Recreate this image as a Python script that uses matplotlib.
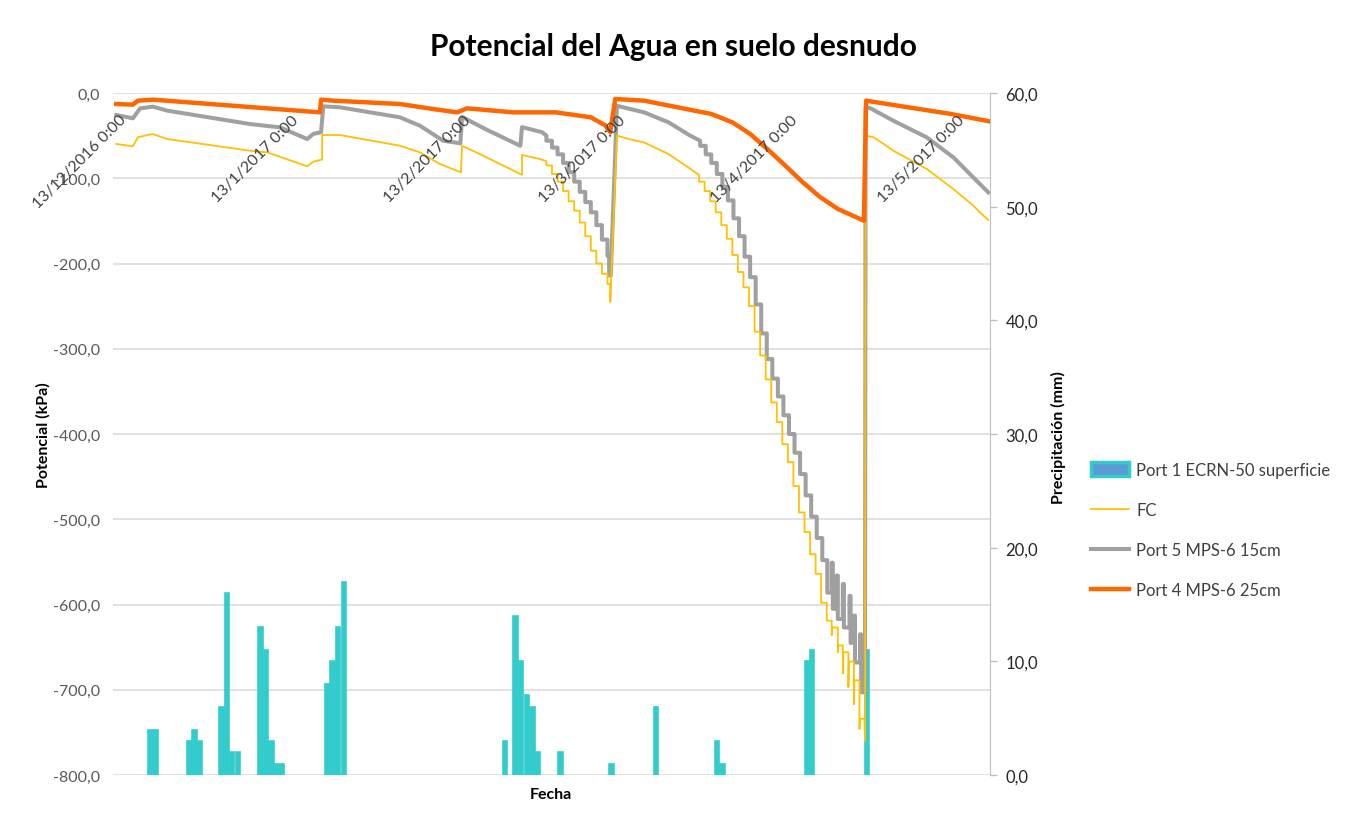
import matplotlib.pyplot as plt
import matplotlib.transforms as mtransforms
from matplotlib.ticker import MultipleLocator, FuncFormatter
from matplotlib.patches import Patch
from matplotlib.lines import Line2D
import pandas as pd

plt.rcParams['font.family'] = ['Lato', 'DejaVu Sans']

# origen de tiempo: dias contados desde 13/12/2016 0:00
inicio = pd.Timestamp('2016-12-13 00:00')
x_min, x_max = '2016-12-11 22:00', '2017-05-18 22:00'
etiquetas_fecha = ['2016-12-13', '2017-01-13', '2017-02-13', '2017-03-13', '2017-04-13', '2017-05-13']

# Port 1 ECRN-50 superficie (precipitacion, mm)
lluvia_dias = [5.7, 6.6, 12.7, 13.6, 14.5, 18.5, 19.5, 20.4, 21.4, 25.5, 26.5, 27.5, 28.4, 29.4,
               37.6, 38.5, 39.5, 40.5, 69.5, 71.4, 72.4, 73.5, 74.5, 75.4, 79.5, 88.7, 96.7,
               107.7, 108.7, 123.9, 124.8, 134.8]
lluvia_mm = [4, 4, 3, 4, 3, 6, 16, 2, 2, 13, 11, 3, 1, 1,
             8, 10, 13, 17, 3, 14, 10, 7, 6, 2, 2, 1, 6,
             3, 1, 10, 11, 11]

# Port 4 MPS-6 25cm
p4_dias = [-0.5, 2.5, 3.4, 6.1, 36.2, 36.4, 38.6, 50.6, 56.6, 60.9, 62.7, 71.0, 78.7, 85.0,
           87.6, 88.5, 89.4, 94.6, 106.7, 110.5, 113.7, 116.8, 120.0, 123.2, 126.3, 129.5,
           134.2, 134.6, 142.2, 149.9, 156.6]
p4_kpa = [-12.9, -13.7, -9, -7.8, -22.7, -7.8, -9, -12.9, -18.8, -22.7, -18, -22.7, -22.7, -28.5,
          -38, -46, -7, -9, -24.6, -34.4, -48, -65.7, -85, -104.8, -122, -136,
          -149.8, -9, -16.8, -24.6, -33]

# Port 5 MPS-6 15cm
p5_dias = [-0.5, 2.5, 3.8, 6.1, 8.7, 23.6, 29.0, 33.9, 35.0, 36.4, 36.8, 39.8, 50.6, 54.2, 58.4,
           61.5, 61.8, 65.9, 72.3, 72.6, 76.2,
           77, 77, 78, 78, 79, 79, 80, 80, 81, 81, 82, 82, 83, 83, 84, 84, 85, 85, 86, 86, 87, 87,
           88, 88, 88.3, 88.3, 88.6, 89.7, 94.6, 99.0, 102.9,
           104.7, 104.7, 105.7, 105.7, 106.7, 106.7, 107.7, 107.7, 108.7, 108.7, 109.7, 109.7,
           110.7, 110.7, 111.7, 111.7, 112.7, 112.7, 113.7, 113.7, 114.7, 114.7, 115.7, 115.7,
           116.7, 116.7, 117.7, 117.7, 118.7, 118.7, 119.7, 119.7, 120.7, 120.7, 121.7, 121.7,
           122.7, 122.7, 123.7, 123.7, 124.7, 124.7, 125.7, 125.7, 126.7, 126.7,
           127.6, 127.6, 128.4, 128.4, 128.6, 128.6, 129.3, 129.3, 129.5, 129.5, 130.4, 130.4,
           130.6, 130.6, 131.6, 131.6, 131.8, 131.8, 132.4, 132.4, 132.6, 132.6, 133.5, 133.5,
           133.7, 133.7, 134.4, 134.5, 135.3, 139.5, 145.5, 150.3, 153.9, 156.6]
p5_kpa = [-25.8, -29.7, -18, -16, -20.7, -36.4, -40.3, -54, -48, -46, -15.6, -16.8, -28.5, -38.3, -56,
          -59, -28, -42, -62, -40, -46,
          -50, -56, -56, -64, -64, -72, -72, -82, -82, -93, -93, -104, -104, -116, -116, -128, -128, -140,
          -140, -155, -155, -172, -172, -191, -191, -214, -214, -15, -22.7, -34.4, -50,
          -56, -62, -62, -72, -72, -82, -82, -95, -95, -110, -110, -126,
          -126, -147, -147, -168, -168, -192, -192, -216, -216, -248, -248, -282,
          -282, -312, -312, -335, -335, -356, -356, -378, -378, -400, -400, -422,
          -422, -447, -447, -472, -472, -497, -497, -522, -522, -548,
          -548, -586, -586, -551, -551, -605, -605, -566, -566, -617, -617, -576,
          -576, -627, -627, -590, -590, -645, -645, -613, -613, -668, -668, -635,
          -635, -703, -703, -17, -17.6, -32.5, -52, -75.4, -99, -116.5]

# FC
fc_dias = [-0.5, 2.5, 3.4, 6.0, 8.7, 23.6, 26.7, 33.9, 35.0, 36.6, 36.6, 39.8, 50.6, 54.2, 57.8,
           61.6, 61.8, 65.6, 72.6, 72.6, 75.8,
           77, 77, 78, 78, 79, 79, 80, 80, 81, 81, 82, 82, 83, 83, 84, 84, 85, 85, 86, 86, 87, 87,
           88, 88, 88.5, 88.5, 89.7, 91.9, 94.6, 99.0, 102.9,
           104.5, 104.5, 105.5, 105.5, 106.5, 106.5, 107.5, 107.5, 108.5, 108.5, 109.5, 109.5,
           110.5, 110.5, 111.5, 111.5, 112.5, 112.5, 113.5, 113.5, 114.5, 114.5, 115.5, 115.5,
           116.5, 116.5, 117.5, 117.5, 118.5, 118.5, 119.5, 119.5, 120.5, 120.5, 121.5, 121.5,
           122.5, 122.5, 123.5, 123.5, 124.5, 124.5, 125.5, 125.5, 126.5, 126.5, 127.5, 127.5,
           128.4, 128.4, 128.5, 129.5, 129.5, 129.6, 130.4, 130.4, 130.5, 131.4, 131.4, 131.5,
           132.4, 132.4, 132.5, 133.4, 133.4, 133.5, 134.3, 134.4, 134.5,
           136.0, 139.5, 145.5, 150.3, 153.9, 155.1, 156.6]
fc_kpa = [-59.8, -62.5, -52, -48, -54, -67.7, -69.6, -86, -80.6, -78, -49.3, -49.3, -61.8, -69.6, -83.3,
          -93, -61.8, -73.5, -96, -72.7, -77.4,
          -80, -85, -85, -95, -95, -104, -104, -115, -115, -127, -127, -138, -138, -152, -152, -168,
          -168, -185, -185, -200, -200, -212, -212, -224, -224, -245, -50, -54, -58, -71.6, -89,
          -96, -104, -104, -115, -115, -127, -127, -140, -140, -155, -155, -171,
          -171, -190, -190, -210, -210, -228, -228, -250, -250, -280, -280, -308,
          -308, -336, -336, -363, -363, -386, -386, -412, -412, -433, -433, -461,
          -461, -492, -492, -515, -515, -541, -541, -564, -564, -598, -598, -619,
          -619, -636, -627, -627, -656, -648, -648, -681, -656, -656, -697, -667,
          -667, -717, -689, -689, -746, -734, -734, -760, -50,
          -52, -67.7, -89, -112.6, -132, -140, -149]


def fechas(dias):
    return inicio + pd.to_timedelta(dias, unit='D')


def coma(v, pos):
    s = f"{v:.1f}".replace('.', ',')
    return '0,0' if s == '-0,0' else s


fig = plt.figure(figsize=(13.49, 8.28), dpi=100)
ax = fig.add_axes([113 / 1349, 1 - 776 / 828, (990 - 113) / 1349, (776 - 94) / 828])
ax_p = ax.twinx()
ax.set_zorder(ax_p.get_zorder() + 1)
ax.patch.set_visible(False)

# lineas de division (del eje de potencial) por debajo de las barras
grid_tr = mtransforms.blended_transform_factory(ax_p.transAxes, ax.transData)
for v in range(0, -900, -100):
    ax_p.plot([0, 1], [v, v], transform=grid_tr, color='#D9D9D9', lw=1.1, zorder=0)

ax_p.bar(fechas(lluvia_dias), lluvia_mm, width=0.8, color='#33CCCC',
         edgecolor='#33CCCC', linewidth=1.2, zorder=2)

ax.plot(fechas(p5_dias), p5_kpa, color='#A0A0A0', lw=2.9, zorder=2)
ax.plot(fechas(fc_dias), fc_kpa, color='#FFC000', lw=1.3, zorder=3)
ax.plot(fechas(p4_dias), p4_kpa, color='#FF6600', lw=3.2, zorder=4)

ax.set_xlim(pd.Timestamp(x_min), pd.Timestamp(x_max))
ax.set_ylim(-800, 0)
ax_p.set_ylim(0, 60)

ax.yaxis.set_major_locator(MultipleLocator(100))
ax.yaxis.set_major_formatter(FuncFormatter(coma))
ax.tick_params(axis='y', length=0, pad=9, labelsize=11.5, labelcolor='#595959')
ax.tick_params(axis='x', bottom=False, labelbottom=False)
ax_p.yaxis.set_major_locator(MultipleLocator(10))
ax_p.yaxis.set_major_formatter(FuncFormatter(coma))
ax_p.tick_params(axis='y', length=5, width=1, color='#BFBFBF', pad=6,
                 labelsize=12, labelcolor='#262626')
ax_p.tick_params(axis='x', bottom=False, labelbottom=False)
for s in ['top', 'bottom', 'left']:
    ax.spines[s].set_visible(False)
    ax_p.spines[s].set_visible(False)
ax.spines['right'].set_visible(False)
ax_p.spines['right'].set_color('#BFBFBF')

for f in etiquetas_fecha:
    t = pd.Timestamp(f)
    ax.annotate(f"{t.day}/{t.month}/{t.year} 0:00", xy=(t, 0), xytext=(0, -14),
                textcoords='offset points', rotation=45, rotation_mode='anchor',
                ha='right', va='top', fontsize=11.5, color='#404040', zorder=6)

fig.text(0.499, 1 - 47 / 828, 'Potencial del Agua en suelo desnudo', ha='center', va='center',
         fontsize=21.5, fontweight='bold', color='#000000')
fig.text(551 / 1349, 1 - 795 / 828, 'Fecha', ha='center', va='center', fontsize=11.5,
         fontweight='bold')
fig.text(43 / 1349, 1 - 435 / 828, 'Potencial (kPa)', ha='center', va='center', rotation=90,
         fontsize=11.5, fontweight='bold')
fig.text(1058 / 1349, 1 - 438 / 828, 'Precipitación (mm)', ha='center', va='center',
         rotation=90, fontsize=11.5, fontweight='bold')

handles = [Patch(facecolor='#5B9BD5', edgecolor='#33CCCC', linewidth=2.5),
           Line2D([], [], color='#FFC000', lw=1.3),
           Line2D([], [], color='#A0A0A0', lw=2.9),
           Line2D([], [], color='#FF6600', lw=3.2)]
labels = ['Port 1 ECRN-50 superficie', 'FC', 'Port 5 MPS-6 15cm', 'Port 4 MPS-6 25cm']
fig.legend(handles, labels, loc='upper left', bbox_to_anchor=(1076 / 1349, 1 - 448 / 828),
           frameon=False, fontsize=12, labelspacing=1.45, handlelength=2.3, handleheight=0.9,
           handletextpad=0.4, labelcolor='#404040')

fig.savefig('out.png', dpi=100)
